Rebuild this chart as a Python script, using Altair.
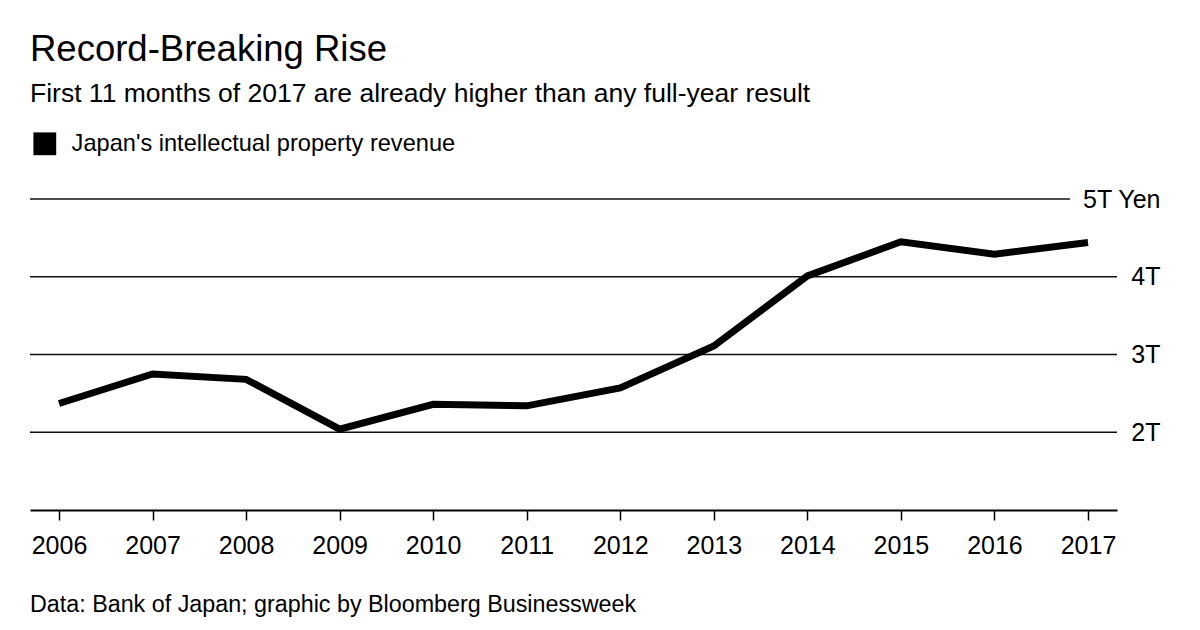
import altair as alt
import pandas as pd

years = ["2006", "2007", "2008", "2009", "2010", "2011", "2012", "2013", "2014", "2015", "2016", "2017"]
revenue = [2.37, 2.75, 2.68, 2.04, 2.36, 2.34, 2.57, 3.11, 4.01, 4.45, 4.29, 4.44]
series_name = "Japan's intellectual property revenue"
grid_full = [2, 3, 4]
grid_top = [5]

title_text = "Record-Breaking Rise"
subtitle_text = "First 11 months of 2017 are already higher than any full-year result"
source_text = "Data: Bank of Japan; graphic by Bloomberg Businessweek"

FONT = "Liberation Sans"
W, H = 1087, 311

df = pd.DataFrame({"year": years, "value": revenue, "series": [series_name] * len(years)})

x_enc = alt.X("year:O", scale=alt.Scale(type="point", padding=0.31),
              axis=alt.Axis(title=None, labelAngle=0, labelFontSize=25, labelFont=FONT,
                            labelColor="black", tickSize=10, tickWidth=1.5, tickColor="black",
                            domainColor="black", domainWidth=2, labelPadding=13, grid=False))
y_enc = alt.Y("value:Q", scale=alt.Scale(domain=[1, 5], nice=False, zero=False),
              axis=alt.Axis(title=None, orient="right", values=[2, 3, 4, 5],
                            labelExpr="datum.value == 5 ? '5T Yen' : datum.value + 'T'",
                            labelAlign="right", labelBaseline="middle", labelPadding=43,
                            ticks=False, tickSize=0, domain=False, grid=False,
                            labelFontSize=25, labelFont=FONT, labelColor="black"))

grid1 = alt.Chart(pd.DataFrame({"value": grid_full})).mark_rule(color="#111", strokeWidth=1.6).encode(
    y=y_enc, x=alt.value(0), x2=alt.value(W))
grid2 = alt.Chart(pd.DataFrame({"value": grid_top})).mark_rule(color="#111", strokeWidth=1.6).encode(
    y=y_enc, x=alt.value(0), x2=alt.value(W - 47))

line = alt.Chart(df).mark_line(strokeWidth=7, strokeCap="butt", strokeJoin="miter").encode(
    x=x_enc, y=y_enc,
    color=alt.Color("series:N", scale=alt.Scale(domain=[series_name], range=["black"]),
                    legend=alt.Legend(title=None, orient="none", legendX=3, legendY=-67,
                                      symbolType="square", symbolSize=520,
                                      symbolFillColor="black", symbolStrokeColor="black",
                                      symbolStrokeWidth=0, labelFontSize=23.6, labelFont=FONT,
                                      labelColor="black", labelOffset=15, labelLimit=0,
                                      padding=0)))

def txt(s, y, size):
    return alt.Chart(pd.DataFrame({"t": [s]})).mark_text(
        align="left", baseline="alphabetic", fontSize=size, font=FONT, color="black"
    ).encode(text="t:N", x=alt.value(0), y=alt.value(y))

title = txt(title_text, -138, 36.5)
subtitle = txt(subtitle_text, -97, 26.5)
source = txt(source_text, 413, 23.3)

chart = alt.layer(grid1, grid2, line, title, subtitle, source).properties(
    width=W, height=H,
    autosize=alt.AutoSizeParams(type="none"),
    padding={"left": 30, "top": 199, "right": 83, "bottom": 120},
    background="white",
).configure_view(stroke=None)

chart.save("out.html", embed_options={"renderer": "svg", "actions": False})
